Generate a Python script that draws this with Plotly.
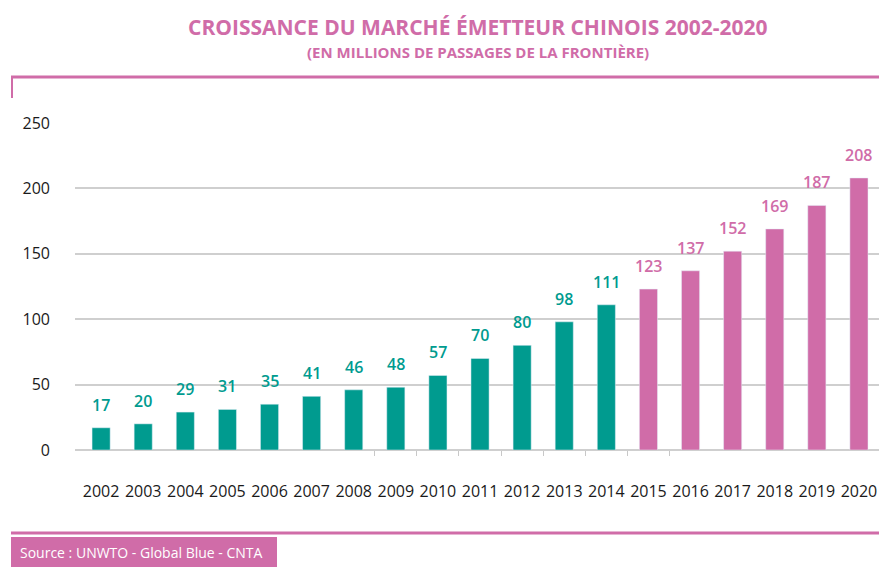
import plotly.graph_objects as go

years = [str(y) for y in range(2002, 2021)]
values = [17, 20, 29, 31, 35, 41, 46, 48, 57, 70, 80, 98, 111, 123, 137, 152, 169, 187, 208]
hist_years = years[:13]
hist_values = values[:13]
proj_years = years[13:]
proj_values = values[13:]
# boundary ticks visible in the original (between 2008/2009 ... 2015/2016)
tick_boundaries = [6.5, 7.5, 8.5, 9.5, 10.5, 11.5, 12.5, 13.5]

TEAL = "#009B8F"
PINK = "#D06CA8"
FONT = "Open Sans"

# page has an 8px body margin: build figure in page coords minus 8
OFF = 8
W, H = 887 - OFF, 567 - OFF
L, R, T, B = 75 - OFF, 7, 123 - OFF, 567 - 450
XR = [-0.62, 18.5]

fig = go.Figure()
fig.add_trace(go.Bar(x=hist_years, y=hist_values, marker_color=TEAL, width=0.43, hoverinfo="x+y"))
fig.add_trace(go.Bar(x=proj_years, y=proj_values, marker_color=PINK, width=0.43, hoverinfo="x+y"))
# invisible trace to activate the overlay axis carrying the boundary ticks
fig.add_trace(go.Scatter(x=[XR[0], XR[1]], y=[0, 0], xaxis="x2", mode="lines",
                         line=dict(width=0), hoverinfo="skip", showlegend=False))

for i, (yr, v) in enumerate(zip(years, values)):
    fig.add_annotation(x=i, y=v, xref="x", yref="y", text=str(v), showarrow=False,
                       yanchor="bottom", yshift=10,
                       font=dict(family=FONT, size=16, weight=600,
                                 color=TEAL if int(yr) < 2015 else PINK))

fig.update_layout(
    width=W, height=H,
    margin=dict(l=L, r=R, t=T, b=B, autoexpand=False),
    plot_bgcolor="white", paper_bgcolor="white",
    showlegend=False, bargap=0.5,
    font=dict(family=FONT, color="#1a1a1a"),
    xaxis=dict(type="category", range=XR, tickfont=dict(size=16, color="#1a1a1a"),
               tickangle=0, automargin=False, ticks="", ticklen=0,
               ticklabelstandoff=30, showgrid=False, showline=False, zeroline=False),
    xaxis2=dict(overlaying="x", side="bottom", range=XR, tickvals=tick_boundaries,
                showticklabels=False, ticks="outside", ticklen=5, tickwidth=1,
                tickcolor="#c8c8c8", showgrid=False, showline=False, zeroline=False,
                automargin=False),
    yaxis=dict(range=[0, 250], dtick=50, tickfont=dict(size=16, color="#1a1a1a"), automargin=False,
               showgrid=True, gridcolor="#cfcfcf", gridwidth=2, zeroline=True,
               zerolinecolor="#cfcfcf", zerolinewidth=2, ticklabelstandoff=24),
)

def px(x):
    return (x - OFF - L) / (W - L - R)
def py(y):
    return (H - B - (y - OFF)) / (H - T - B)

# Title and subtitle
fig.add_annotation(xref="paper", yref="paper", x=0.5, y=py(27), xanchor="center", yanchor="middle",
                   text="<b>CROISSANCE DU MARCHÉ ÉMETTEUR CHINOIS 2002-2020</b>",
                   showarrow=False, font=dict(family=FONT, size=21, color=PINK))
fig.add_annotation(xref="paper", yref="paper", x=0.5, y=py(52), xanchor="center", yanchor="middle",
                   text="<b>(EN MILLIONS DE PASSAGES DE LA FRONTIÈRE)</b>",
                   showarrow=False, font=dict(family=FONT, size=15, color=PINK))

fig.add_shape(type="line", xref="paper", yref="paper", x0=px(11), x1=px(890), y0=py(77), y1=py(77),
              line=dict(color=PINK, width=3))
fig.add_shape(type="line", xref="paper", yref="paper", x0=px(12), x1=px(12), y0=py(77), y1=py(98),
              line=dict(color=PINK, width=2))
fig.add_shape(type="line", xref="paper", yref="paper", x0=px(11), x1=px(890), y0=py(533), y1=py(533),
              line=dict(color=PINK, width=3))
fig.add_shape(type="rect", xref="paper", yref="paper", x0=px(11), x1=px(277), y0=py(537), y1=py(572),
              fillcolor=PINK, line=dict(width=0))
fig.add_annotation(xref="paper", yref="paper", x=px(18), y=py(552), xanchor="left", yanchor="middle",
                   text="Source : UNWTO - Global Blue - CNTA", showarrow=False,
                   font=dict(family=FONT, size=14, color="white"))

fig.write_html("out.html")
